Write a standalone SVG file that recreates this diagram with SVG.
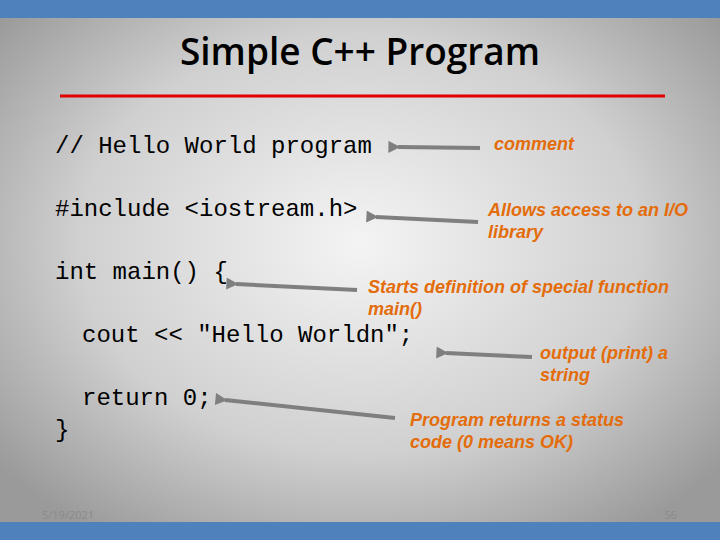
<svg xmlns="http://www.w3.org/2000/svg" width="720" height="540" viewBox="0 0 720 540">
<defs>
<radialGradient id="bg" cx="50%" cy="45%" r="65%">
<stop offset="0" stop-color="#f4f4f4"/><stop offset="0.6" stop-color="#d0d0d0"/><stop offset="1" stop-color="#9a9a9a"/>
</radialGradient>
<marker id="ah" viewBox="0 0 10 10" refX="2" refY="5" markerWidth="3.5" markerHeight="3" orient="auto-start-reverse">
<path d="M0,5 L10,0 L10,10 Z" fill="#7f7f7f"/>
</marker>
<style>
.code{font-family:"Liberation Mono",monospace;font-size:24px;fill:#000}
.note{font-family:"Liberation Sans",Arial,sans-serif;font-size:18px;font-weight:bold;font-style:italic;fill:#e46c0a}
.arr{stroke:#7f7f7f;stroke-width:4;fill:none;marker-start:url(#ah)}
.foot{font-family:"Open Sans",sans-serif;font-size:11px;fill:#8a8a8a}
</style>
</defs>
<rect width="720" height="540" fill="url(#bg)"/>
<rect width="720" height="18" fill="#4f81bd"/>
<rect y="522" width="720" height="18" fill="#4f81bd"/>
<text x="360" y="65" text-anchor="middle" font-family="Open Sans,sans-serif" font-size="37" font-weight="600" fill="#000">Simple C++ Program</text>
<line x1="60" y1="96" x2="665" y2="96" stroke="#e00000" stroke-width="3"/>
<g id="code">
<text class="code" x="55" y="153">// Hello World program</text>
<text class="code" x="55" y="216">#include &lt;iostream.h&gt;</text>
<text class="code" x="55" y="279">int main() {</text>
<text class="code" x="82" y="342">cout &lt;&lt; "Hello Worldn";</text>
<text class="code" x="82" y="405">return 0;</text>
<text class="code" x="55" y="437">}</text>
</g>
<g id="notes">
<text class="note" x="494" y="150">comment</text>
<text class="note" x="488" y="216">Allows access to an I/O</text>
<text class="note" x="488" y="238">library</text>
<text class="note" x="368" y="293">Starts definition of special function</text>
<text class="note" x="368" y="315">main()</text>
<text class="note" x="540" y="359">output (print) a</text>
<text class="note" x="540" y="381">string</text>
<text class="note" x="410" y="426">Program returns a status</text>
<text class="note" x="410" y="448">code (0 means OK)</text>
</g>
<g id="connectors">
<line class="arr" x1="398" y1="147" x2="480" y2="148"/>
<line class="arr" x1="376" y1="217" x2="478" y2="222"/>
<line class="arr" x1="236" y1="284" x2="357" y2="290"/>
<line class="arr" x1="446" y1="353" x2="532" y2="357"/>
<line class="arr" x1="225" y1="400" x2="395" y2="418"/>
</g>
<text class="foot" x="42" y="519">5/19/2021</text>
<text class="foot" x="677" y="519" text-anchor="end">56</text>
</svg>
